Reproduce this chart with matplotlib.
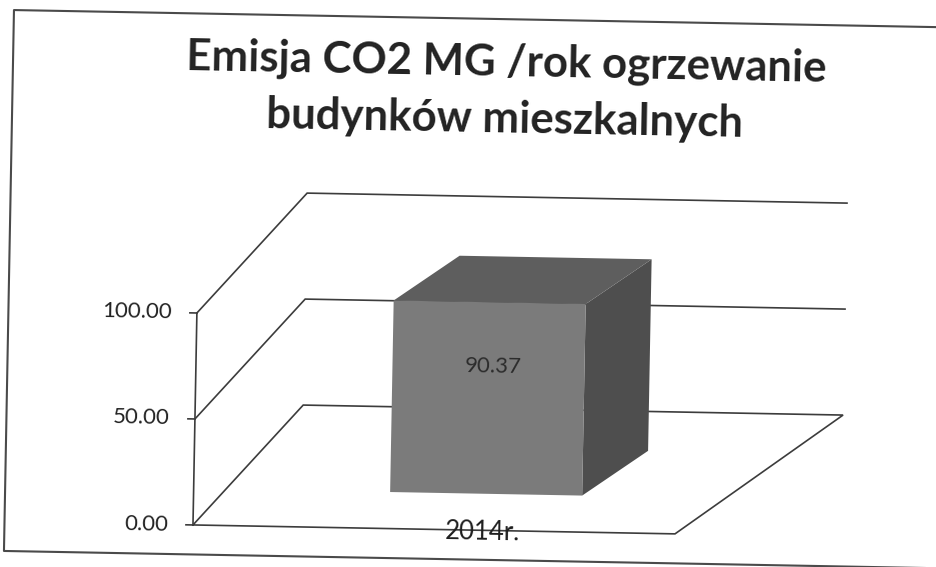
import matplotlib
matplotlib.use('Agg')
import matplotlib.pyplot as plt
from matplotlib.transforms import Affine2D
from matplotlib.patches import Polygon
from matplotlib.lines import Line2D

# ---------------- data ----------------
categories = ['2014r.']
values = [90.37]
value_labels = ['90.37']
y_ticks = [0, 50, 100]
y_tick_labels = ['0.00', '50.00', '100.00']
title_lines = ['Emisja CO2 MG /rok ogrzewanie', 'budynków mieszkalnych']

# ---------------- figure ----------------
W, H = 937, 567
fig = plt.figure(figsize=(W / 100, H / 100), dpi=100)
fig.patch.set_facecolor('white')

FONT = ['Lato', 'DejaVu Sans']
TILT = -1.06                      # the scanned page is slightly rotated
rot = Affine2D().rotate_deg_around(468, 284, TILT)

# front plane of the 3-D box: x 0..1 across the floor, y in value units
ax = fig.add_axes([197.5 / W, 37 / H, 482.1 / W, 212 / H])
ax.set_xlim(0, 1)
ax.set_ylim(0, 100)
ax.axis('off')
T = ax.transData + rot

# floor / wall projection (depth d from 0 = front to 1 = back wall)
DX = 0.224   # horizontal shift of the back wall (axis-width units)
DW = 0.120   # back wall is slightly wider
DY = 57.5    # vertical rise of the back wall (value units)


def proj(u, v, d):
    return u * (1 + DW * d) + DX * d, v + DY * d


LINE_C = '#3c3c3c'
LW = 1.2


def poly_line(pts, **kw):
    xs, ys = zip(*[proj(*p) for p in pts])
    ax.add_line(Line2D(xs, ys, color=LINE_C, lw=LW, transform=T,
                       clip_on=False, solid_joinstyle='miter', **kw))


# floor
poly_line([(0, 0, 0), (1, 0, 0), (1, 0, 1), (0, 0, 1), (0, 0, 0)], zorder=2)
# gridlines on side + back wall
for t in y_ticks[1:]:
    poly_line([(0, t, 0), (0, t, 1), (1, t, 1)], zorder=1)

# value axis with ticks
ymax = y_ticks[-1]
poly_line([(0, 0, 0), (0, ymax, 0)], zorder=2)
TICK = 7 / 482.1
for t, lab in zip(y_ticks, y_tick_labels):
    ax.add_line(Line2D([-TICK, 0], [t, t], color=LINE_C, lw=LW,
                       transform=T, clip_on=False))
    ax.text(-25 / 482.1, t, lab, transform=T, ha='right', va='center',
            fontsize=16, color='#222222', family=FONT,
            rotation=TILT, rotation_mode='anchor')

# ---------------- bar ----------------
BAR_L, BAR_R = 0.4076, 0.806      # front face in front-plane units
D0, DD = 0.30, 0.377              # depth of the front face, bar depth
BX = 0.135                        # horizontal offset of the bar's back face

FRONT_C, TOP_C, SIDE_C = '#7b7b7b', '#5e5e5e', '#4e4e4e'

for cat, val, vlab in zip(categories, values, value_labels):
    y0 = DY * D0
    y1 = y0 + val
    yb = DY * DD
    side = [(BAR_R, y0), (BAR_R + BX, y0 + yb), (BAR_R + BX, y1 + yb), (BAR_R, y1)]
    top = [(BAR_L, y1), (BAR_L + BX, y1 + yb), (BAR_R + BX, y1 + yb), (BAR_R, y1)]
    front = [(BAR_L, y0), (BAR_R, y0), (BAR_R, y1), (BAR_L, y1)]
    for pts, c in ((side, SIDE_C), (top, TOP_C), (front, FRONT_C)):
        ax.add_patch(Polygon(pts, closed=True, facecolor=c, edgecolor='none',
                             transform=T, clip_on=False, zorder=3))
    xc = (BAR_L + BAR_R) / 2
    ax.text(xc + 0.01, y0 + val * 2 / 3, vlab, transform=T, ha='center',
            va='center', fontsize=16, color='#2c2c2c', family=FONT,
            rotation=TILT, rotation_mode='anchor', zorder=4)
    ax.text(xc - 0.006, -1.0, cat, transform=T, ha='center', va='center',
            fontsize=18.5, color='#1e1e1e', family=FONT,
            rotation=TILT, rotation_mode='anchor', zorder=4)

# ---------------- title ----------------
for line, base_y in zip(title_lines, [75, 132]):
    fig.text(502, H - base_y, line, transform=rot, ha='center', va='baseline',
             fontsize=31.5, fontweight='bold', color='#222222', family=FONT,
             rotation=TILT, rotation_mode='anchor')

# ---------------- chart border (top, left, bottom; right edge runs off the scan) ----------------
bx = [960, 9, 9, 960]
by = [H - 18.5, H - 18.5, H - 559.5, H - 559.5]
fig.add_artist(Line2D(bx, by, color='#4a4a4a', lw=1.5, transform=rot))

fig.savefig('out.png', dpi=100, facecolor='white')
